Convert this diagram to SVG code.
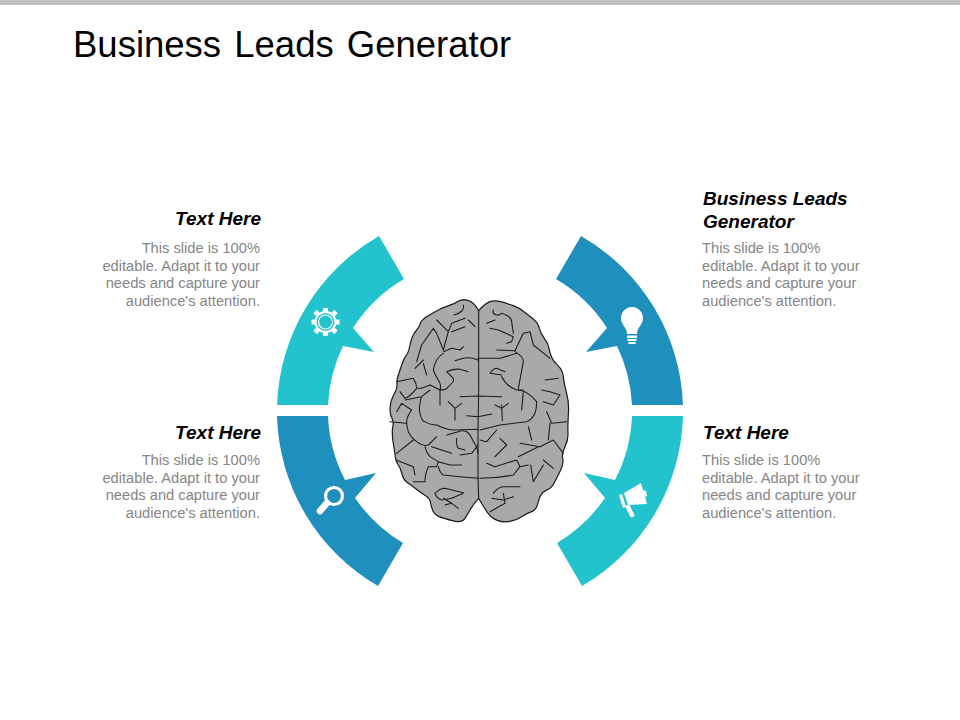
<svg xmlns="http://www.w3.org/2000/svg" width="960" height="720" viewBox="0 0 960 720">
<style>
text{font-family:"Liberation Sans",Arial,sans-serif}
.title{font-size:36.500px;fill:#000;word-spacing:3px}
.h{font-size:19px;font-weight:bold;font-style:italic;fill:#000}
.b{font-size:14.700px;fill:#858585}
.r{text-anchor:end}
.teal{fill:#22c3cc}
.blue{fill:#1f8fbd}
.ico{fill:#fff}
.line{fill:none;stroke:#1a1a1a;stroke-width:3.200;stroke-linejoin:round;stroke-linecap:round}
</style>
<defs>
<path id="seg" d="M277 405A203 203 0 0 1 379 236L404 279A152 152 0 0 0 353 328L374 352L343 346A152 152 0 0 0 328 405Z"/>
<path id="segb" d="M683 416A203 203 0 0 1 582 586L557 543A152 152 0 0 0 605 498L584 473L615 480A152 152 0 0 0 632 416Z"/>
</defs>
<rect width="960" height="5" fill="#bfbfbf"/>
<text class="title" x="73" y="57">Business Leads Generator</text>

<g id="node-top-left">
<use href="#seg" class="teal"/>
<g fill="none" stroke="#fff">
<circle cx="325.500" cy="322" r="10" stroke-width="2"/>
<circle cx="325.500" cy="322" r="7" stroke-width="1.200"/>
</g>
<g class="ico">
<rect x="323" y="308" width="5" height="4"/><rect x="323" y="332" width="5" height="4"/>
<rect x="311.500" y="319.500" width="4" height="5"/><rect x="335.500" y="319.500" width="4" height="5"/>
<rect x="314" y="311" width="5" height="4" transform="rotate(-45 316.500 313)"/>
<rect x="332" y="311" width="5" height="4" transform="rotate(45 334.500 313)"/>
<rect x="314" y="329" width="5" height="4" transform="rotate(45 316.500 331)"/>
<rect x="332" y="329" width="5" height="4" transform="rotate(-45 334.500 331)"/>
</g>
<text class="h r" x="261" y="225">Text Here</text>
<text class="b r" x="260" y="253">This slide is 100%</text>
<text class="b r" x="260" y="271">editable. Adapt it to your</text>
<text class="b r" x="260" y="288">needs and capture your</text>
<text class="b r" x="260" y="306">audience's attention.</text>
</g>

<g id="node-bottom-left">
<use href="#segb" class="blue" transform="matrix(-1 0 0 1 960 0)"/>
<circle cx="334" cy="496" r="8.500" fill="none" stroke="#fff" stroke-width="3.200"/>
<path d="M327 503L320 511" stroke="#fff" stroke-width="6.500" stroke-linecap="round" fill="none"/>
<text class="h r" x="261" y="439">Text Here</text>
<text class="b r" x="260" y="465">This slide is 100%</text>
<text class="b r" x="260" y="483">editable. Adapt it to your</text>
<text class="b r" x="260" y="500">needs and capture your</text>
<text class="b r" x="260" y="518">audience's attention.</text>
</g>

<g id="node-top-right">
<use href="#seg" class="blue" transform="matrix(-1 0 0 1 960 0)"/>
<path class="ico" d="M632 307C625 307 621 313 621 318C621 325 627 327 627 334H637C637 327 643 325 643 318C643 313 639 307 632 307Z"/>
<rect class="ico" x="627" y="335.500" width="10" height="2.500"/>
<rect class="ico" x="627.500" y="339" width="9" height="2"/>
<rect class="ico" x="628.500" y="342" width="7" height="2"/>
<text class="h" x="703" y="205">Business Leads</text>
<text class="h" x="703" y="228">Generator</text>
<text class="b" x="702" y="253">This slide is 100%</text>
<text class="b" x="702" y="271">editable. Adapt it to your</text>
<text class="b" x="702" y="288">needs and capture your</text>
<text class="b" x="702" y="306">audience's attention.</text>
</g>

<g id="node-bottom-right">
<use href="#segb" class="teal"/>
<path class="ico" d="M624 493L641 483L647 504L628 505Z"/>
<path class="ico" d="M619 495L622 494L626 507L623 508Z"/>
<path class="ico" d="M643 490L646 491L647 496L645 497Z"/>
<path d="M628 507L632 515" stroke="#fff" stroke-width="4.500" stroke-linecap="round" fill="none"/>
<text class="h" x="703" y="439">Text Here</text>
<text class="b" x="702" y="465">This slide is 100%</text>
<text class="b" x="702" y="483">editable. Adapt it to your</text>
<text class="b" x="702" y="500">needs and capture your</text>
<text class="b" x="702" y="518">audience's attention.</text>
</g>

<g id="brain" transform="translate(380 290) scale(.33333)">
<path d="M296 62Q285 42 273 35Q262 29 251 29Q240 30 231 36Q222 42 206 47Q190 52 175 60Q160 68 142 79Q125 90 121 100Q118 110 106 125Q95 140 90 165Q85 190 78 197Q72 205 66 222Q60 240 55 255Q50 270 51 282Q52 295 45 307Q38 320 34 332Q30 345 30 360Q30 375 36 385Q42 395 38 412Q35 430 40 460Q45 490 46 502Q48 515 55 525Q62 535 66 552Q70 570 85 580Q100 590 112 600Q125 610 137 617Q150 625 152 640Q155 655 160 665Q165 675 177 680Q190 685 217 692Q245 700 255 685Q265 670 273 655Q282 640 296 625Q310 650 322 667Q335 685 352 691Q370 698 390 694Q410 690 425 680Q440 670 455 665Q470 660 475 635Q480 610 497 602Q515 595 522 580Q530 565 541 542Q552 520 548 505Q545 490 555 470Q565 450 564 430Q563 410 565 375Q568 340 560 310Q552 280 550 260Q548 240 534 227Q520 215 515 202Q510 190 507 175Q505 160 493 145Q482 130 478 115Q475 100 460 87Q445 75 432 65Q420 55 400 47Q380 40 362 35Q345 30 330 35Q315 40 296 62Z" fill="#a9a9a9" stroke="#1a1a1a" stroke-width="3.600" stroke-linejoin="round"/>
<path class="line" d="M296 62L296 300L294 420L294 560L296 625"/>
<path class="line" d="M222 75C240 70 255 60 250 45M170 90L190 110L205 125L215 100L255 85M205 125L190 180L170 130L160 115L125 165L110 215M255 110L215 125M190 185L215 175L240 180L250 170M265 90L285 110"/>
<path class="line" d="M294 210Q270 200 250 205L225 212M190 190Q165 205 160 240Q165 255 175 270Q185 285 180 300Q200 300 205 290Q225 275 220 265L200 245Q220 235 240 238L265 245M130 210L105 235M130 220L140 255"/>
<path class="line" d="M50 275L100 265Q110 280 110 295Q90 320 75 325L60 305M110 295L125 295L150 285L180 300L180 345M75 330L125 320L150 300M125 320Q115 350 120 370Q125 395 135 395Q150 405 170 405Q200 420 225 420L294 418M95 360Q80 380 80 395Q80 410 85 425Q95 445 110 455Q130 470 145 465L170 440M30 395L78 400M95 360L65 340L50 365"/>
<path class="line" d="M100 450L50 490M48 510L100 530L105 555M135 470Q140 490 150 500L175 515L170 530L145 530Q135 550 135 575L100 575M175 515L210 525L245 525M294 490Q290 465 280 455Q270 430 260 425Q245 420 235 425L200 435M294 465L275 490L240 495M155 470L185 480L215 490M230 445Q228 465 235 475L255 480M175 530Q180 550 190 555L240 560L296 565"/>
<path class="line" d="M165 610Q180 595 195 595L250 608M165 610Q170 625 185 630L215 625L250 610M190 625L215 640L235 655M195 645L215 640"/>
<path class="line" d="M240 320L294 318L365 320M205 335L225 355L245 340M225 355L225 390M260 377L294 380L335 372"/>
<path class="line" d="M294 205L360 205L410 190M320 100L345 90M340 60C335 75 355 80 365 70Q395 80 395 95L400 130M330 115L355 120L400 140L395 155L380 160M350 180L405 182L430 130L450 125L460 165L510 205M405 185Q430 200 430 215L415 295M365 255L330 250Q340 235 350 235L375 245M365 260Q380 290 410 300L430 300"/>
<path class="line" d="M415 300Q440 300 470 335Q470 355 465 370Q455 390 440 395L360 405L300 420M430 305L425 360M495 270L535 265M485 300L510 305L540 315L520 345L490 335M500 365L515 400L560 395M510 400L505 450M365 345L367 392M345 345L365 355L385 340"/>
<path class="line" d="M300 450L320 455L350 420M445 410L455 450M360 445L380 465L345 500M420 460L480 470L520 450L550 490M320 520L345 530L410 510L420 530M415 500L475 470M452 525L460 575L490 525M420 530L445 525M300 565Q350 565 400 555L420 530"/>
<path class="line" d="M340 610Q355 590 370 590L420 590M335 625L370 630L400 620M370 610L375 640L330 665M490 510L520 535"/>
</g>
</svg>
